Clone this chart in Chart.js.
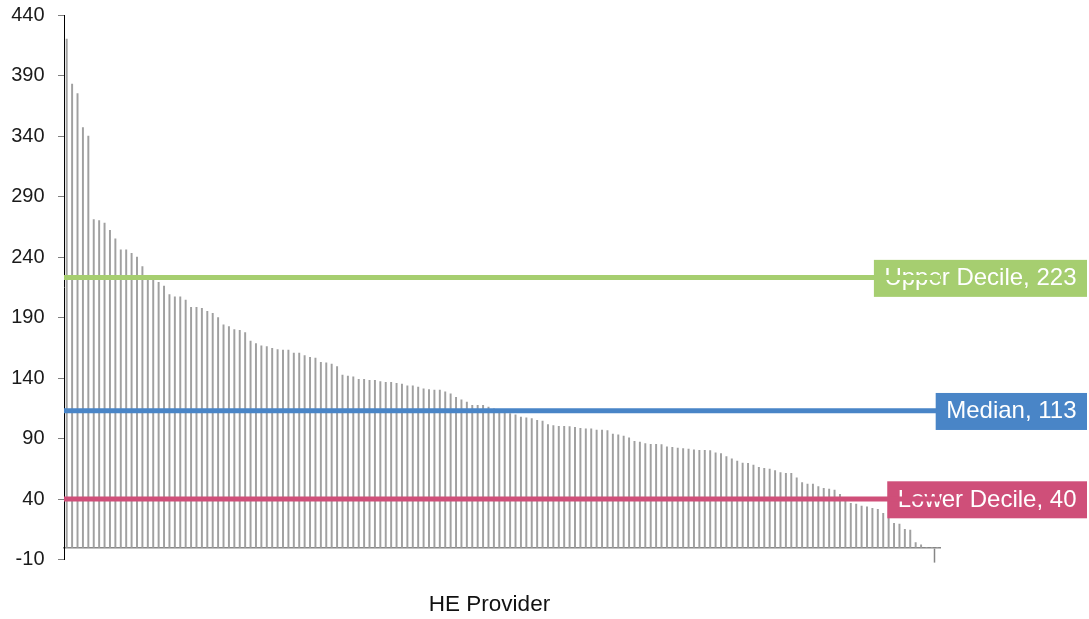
<!DOCTYPE html>
<html>
<head>
<meta charset="utf-8">
<script src="https://cdn.jsdelivr.net/npm/chart.js@4/dist/chart.umd.min.js"></script>
<style>
html,body{margin:0;padding:0;background:#fff;}
#wrap{width:1089px;height:619px;position:relative;}
</style>
</head>
<body>
<div id="wrap"><canvas id="c"></canvas></div>
<script>
// Values per HE provider, sorted descending
const providerValues = [
  420, 383, 375, 347, 340, 271, 270, 268, 262, 255,
  246, 246, 243, 240, 232, 224, 222, 219, 216, 209,
  207, 207, 204.5, 198.5, 198.5, 197.5, 195, 193.5, 190, 184,
  182.5, 180, 179.5, 177.5, 170.5, 168.5, 166.5, 166, 164.5, 163.5,
  163, 163, 160.5, 160.5, 158.5, 157, 156.5, 153, 152.5, 151.5,
  149.5, 142.5, 141.5, 141, 139, 139, 138, 138, 137, 136.5,
  136.5, 135.5, 135, 133.5, 133.5, 132.5, 131, 130.5, 130, 130,
  128.5, 127, 124, 122, 120, 117.5, 117.5, 117.5, 116, 114.5,
  113.5, 112, 110.5, 109.5, 107.8, 107, 106.4, 105, 104.5, 101.5,
  100.6, 100.1, 100, 99.8, 99.3, 98.4, 97.9, 97.9, 97, 97,
  96.5, 93.7, 93, 92, 90.5, 87.6, 87, 85.7, 85.2, 85.2,
  84.9, 83.2, 82.7, 82, 81.6, 81.3, 80.7, 80.3, 80.2, 80,
  78.2, 77.5, 75, 73.3, 71.3, 69.6, 69.4, 68, 66.2, 65.4,
  64.8, 63.4, 61.8, 61.2, 61.2, 57.4, 53.5, 52.4, 52.4, 50.2,
  48.8, 48.3, 47.4, 43.9, 40.5, 36.4, 35.9, 34.2, 33.6, 32.3,
  31.5, 28.2, 24, 19.9, 19.3, 15, 14.4, 3.9, 2.2, 0,
  0, 0
];
const providerLabels = providerValues.map((v, i) => 'Provider ' + (i + 1));
const yTickValues = [-10, 40, 90, 140, 190, 240, 290, 340, 390, 440];
const refNames = ['Upper Decile', 'Median', 'Lower Decile'];
const refValues = [223, 113, 40];
const refColors = ['#a6ce70', '#4985c7', '#cf4f79'];
const xAxisTitle = 'HE Provider    ';

const FONT = '"Liberation Sans", Arial, sans-serif';

const refPlugin = {
  id: 'refLines',
  afterDatasetsDraw(chart) {
    const {ctx, chartArea, scales} = chart;
    const y = scales.y;
    ctx.save();
    ctx.font = '24px ' + FONT;
    ctx.textBaseline = 'middle';
    ctx.textAlign = 'left';
    const pad = 10.5;
    refValues.forEach((v, i) => {
      const py = y.getPixelForValue(v);
      const text = refNames[i] + ', ' + v;
      const tw = ctx.measureText(text).width;
      const right = chart.width - 2;
      const left = right - tw - 2 * pad;
      ctx.fillStyle = refColors[i];
      ctx.fillRect(left, py - 17.7, right - left, 37);
      ctx.fillStyle = '#ffffff';
      ctx.fillText(text, left + pad, py + 1);
    });
    refValues.forEach((v, i) => {
      const py = y.getPixelForValue(v);
      ctx.strokeStyle = refColors[i];
      ctx.lineWidth = 5;
      ctx.beginPath();
      ctx.moveTo(chartArea.left, py);
      ctx.lineTo(chartArea.right, py);
      ctx.stroke();
    });
    ctx.restore();
  }
};

new Chart(document.getElementById('c'), {
  type: 'bar',
  data: {
    labels: providerLabels,
    datasets: [{
      data: providerValues,
      backgroundColor: '#a0a0a0',
      borderWidth: 0,
      barThickness: 1.3
    }]
  },
  options: {
    responsive: true,
    maintainAspectRatio: false,
    animation: false,
    devicePixelRatio: 1,
    layout: { padding: { left: 0, right: 149, top: 15, bottom: 59.5 } },
    plugins: { legend: { display: false }, tooltip: { enabled: false } },
    scales: {
      x: {
        position: { y: 0 },
        offset: true,
        ticks: { display: false, autoSkip: false },
        grid: {
          offset: true,
          drawOnChartArea: false,
          drawTicks: true,
          tickLength: 14,
          tickWidth: 1.5,
          tickColor: (ctx) => (ctx.index === 161 ? '#868686' : 'rgba(0,0,0,0)')
        },
        border: { display: true, color: '#868686', width: 1.6 },
        title: {
          display: true,
          text: xAxisTitle,
          color: '#111',
          font: { family: FONT, size: 22.5 },
          padding: { top: 29.5, bottom: 0 }
        }
      },
      y: {
        min: yTickValues[0],
        max: yTickValues[yTickValues.length - 1],
        afterBuildTicks: (s) => { s.ticks = yTickValues.map(v => ({ value: v })); },
        afterFit: (s) => { s.width = 64; s.paddingTop = 0; s.paddingBottom = 0; },
        ticks: {
          color: '#1a1a1a',
          padding: 13.5,
          font: { family: FONT, size: 20 }
        },
        grid: {
          drawOnChartArea: false,
          drawTicks: true,
          tickLength: 6,
          tickColor: '#7f7f7f',
          tickWidth: 1
        },
        border: { display: true, color: '#000', width: 1 }
      }
    }
  },
  plugins: [refPlugin]
});
</script>
</body>
</html>
